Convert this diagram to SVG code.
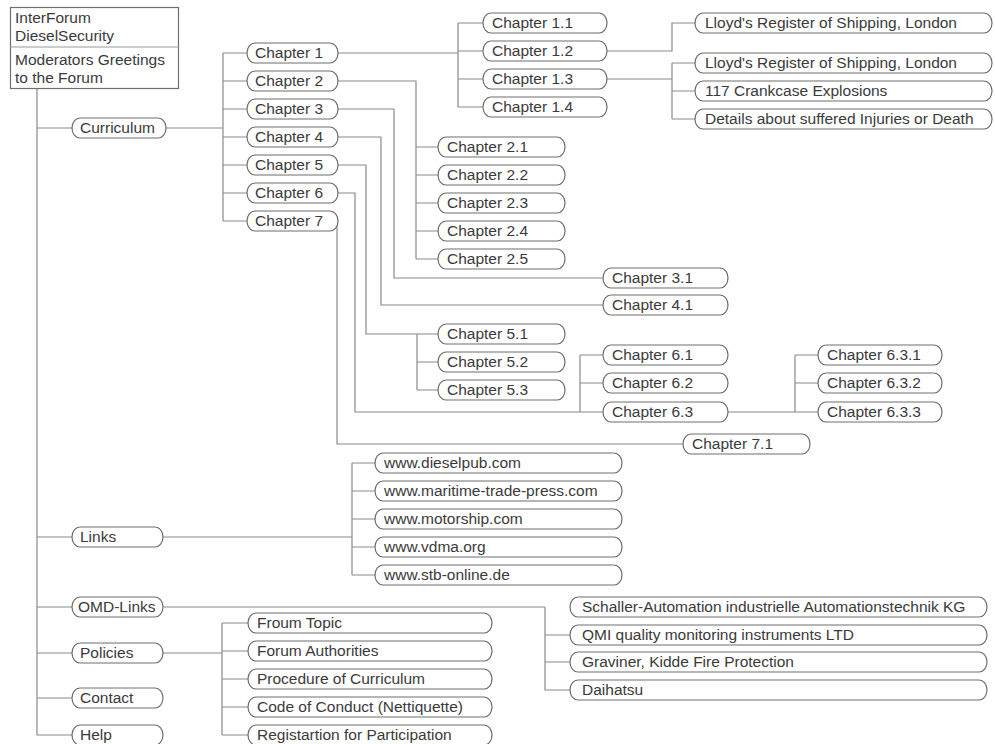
<svg xmlns="http://www.w3.org/2000/svg" width="995" height="744" viewBox="0 0 995 744">
<style>
.p{fill:#fff;stroke:#6e6e6e;stroke-width:1.2}
.t{font-family:"Liberation Sans",Arial,sans-serif;font-size:15.5px;fill:#3a3a3a}
.c{fill:none;stroke:#8a8a8a;stroke-width:1.2}
</style>
<rect width="995" height="744" fill="#fff"/>
<g id="connectors">
<path class="c" d="M37 88V735H72M37 128H72M37 537H72M37 607H72M37 653H72M37 698H72"/>
<path class="c" d="M165 128H223M223 53V221M223 53H247M223 81H247M223 109H247M223 137H247M223 165H247M223 193H247M223 221H247"/>
<path class="c" d="M338 53H458M458 23V107M458 23H483M458 51H483M458 79H483M458 107H483"/>
<path class="c" d="M607 51H672V23H695M607 79H672M672 63V119M672 63H695M672 91H695M672 119H695"/>
<path class="c" d="M338 81H416V259M416 147H438M416 175H438M416 203H438M416 231H438M416 259H438"/>
<path class="c" d="M338 109H394V278H603"/>
<path class="c" d="M338 137H381V305H603"/>
<path class="c" d="M338 165H366V334H417M417 334V390M417 334H438M417 362H438M417 390H438"/>
<path class="c" d="M338 193H355V412H580M580 355V412M580 355H603M580 383H603M580 412H603"/>
<path class="c" d="M728 412H795M795 355V412M795 355H818M795 383H818M795 412H818"/>
<path class="c" d="M337 221V444H683"/>
<path class="c" d="M163 537H352M352 463V575M352 463H375M352 491H375M352 519H375M352 547H375M352 575H375"/>
<path class="c" d="M163 607H545M545 607V690H570M545 635H570M545 662H570"/>
<path class="c" d="M163 653H222M222 623V735M222 623H248M222 651H248M222 679H248M222 707H248M222 735H248"/>
</g>
<g id="root">
<rect x="10.5" y="7.5" width="168" height="81" fill="#fff" stroke="#6e6e6e" stroke-width="1.2"/>
<line x1="10.5" y1="47" x2="178.5" y2="47" stroke="#9a9a9a" stroke-width="1.2"/>
<text class="t" x="15" y="23">InterForum</text>
<text class="t" x="15" y="41">DieselSecurity</text>
<text class="t" x="15" y="65">Moderators Greetings</text>
<text class="t" x="15" y="83">to the Forum</text>
</g>
<g id="curriculum"><rect class="p" x="72" y="118" width="94" height="20" rx="8" ry="10"/><text class="t" x="80" y="133">Curriculum</text></g>
<g id="links"><rect class="p" x="72" y="527" width="91" height="20" rx="8" ry="10"/><text class="t" x="80" y="542">Links</text></g>
<g id="omd-links"><rect class="p" x="72" y="597" width="91" height="20" rx="8" ry="10"/><text class="t" x="78" y="612">OMD-Links</text></g>
<g id="policies"><rect class="p" x="72" y="643" width="91" height="20" rx="8" ry="10"/><text class="t" x="80" y="658">Policies</text></g>
<g id="contact"><rect class="p" x="72" y="688" width="91" height="20" rx="8" ry="10"/><text class="t" x="80" y="703">Contact</text></g>
<g id="help"><rect class="p" x="72" y="725" width="91" height="20" rx="8" ry="10"/><text class="t" x="80" y="740">Help</text></g>
<g id="ch1"><rect class="p" x="247" y="43" width="91" height="20" rx="8" ry="10"/><text class="t" x="255" y="58">Chapter 1</text></g>
<g id="ch2"><rect class="p" x="247" y="71" width="91" height="20" rx="8" ry="10"/><text class="t" x="255" y="86">Chapter 2</text></g>
<g id="ch3"><rect class="p" x="247" y="99" width="91" height="20" rx="8" ry="10"/><text class="t" x="255" y="114">Chapter 3</text></g>
<g id="ch4"><rect class="p" x="247" y="127" width="91" height="20" rx="8" ry="10"/><text class="t" x="255" y="142">Chapter 4</text></g>
<g id="ch5"><rect class="p" x="247" y="155" width="91" height="20" rx="8" ry="10"/><text class="t" x="255" y="170">Chapter 5</text></g>
<g id="ch6"><rect class="p" x="247" y="183" width="91" height="20" rx="8" ry="10"/><text class="t" x="255" y="198">Chapter 6</text></g>
<g id="ch7"><rect class="p" x="247" y="211" width="91" height="20" rx="8" ry="10"/><text class="t" x="255" y="226">Chapter 7</text></g>
<g id="ch1-1"><rect class="p" x="483" y="13" width="124" height="20" rx="8" ry="10"/><text class="t" x="492" y="28">Chapter 1.1</text></g>
<g id="ch1-2"><rect class="p" x="483" y="41" width="124" height="20" rx="8" ry="10"/><text class="t" x="492" y="56">Chapter 1.2</text></g>
<g id="ch1-3"><rect class="p" x="483" y="69" width="124" height="20" rx="8" ry="10"/><text class="t" x="492" y="84">Chapter 1.3</text></g>
<g id="ch1-4"><rect class="p" x="483" y="97" width="124" height="20" rx="8" ry="10"/><text class="t" x="492" y="112">Chapter 1.4</text></g>
<g id="lloyds1"><rect class="p" x="695" y="13" width="297" height="20" rx="8" ry="10"/><text class="t" x="705" y="28">Lloyd's Register of Shipping, London</text></g>
<g id="lloyds2"><rect class="p" x="695" y="53" width="297" height="20" rx="8" ry="10"/><text class="t" x="705" y="68">Lloyd's Register of Shipping, London</text></g>
<g id="crankcase"><rect class="p" x="695" y="81" width="297" height="20" rx="8" ry="10"/><text class="t" x="705" y="96">117 Crankcase Explosions</text></g>
<g id="details"><rect class="p" x="695" y="109" width="297" height="20" rx="8" ry="10"/><text class="t" x="705" y="124">Details about suffered Injuries or Death</text></g>
<g id="ch2-1"><rect class="p" x="438" y="137" width="127" height="20" rx="8" ry="10"/><text class="t" x="447" y="152">Chapter 2.1</text></g>
<g id="ch2-2"><rect class="p" x="438" y="165" width="127" height="20" rx="8" ry="10"/><text class="t" x="447" y="180">Chapter 2.2</text></g>
<g id="ch2-3"><rect class="p" x="438" y="193" width="127" height="20" rx="8" ry="10"/><text class="t" x="447" y="208">Chapter 2.3</text></g>
<g id="ch2-4"><rect class="p" x="438" y="221" width="127" height="20" rx="8" ry="10"/><text class="t" x="447" y="236">Chapter 2.4</text></g>
<g id="ch2-5"><rect class="p" x="438" y="249" width="127" height="20" rx="8" ry="10"/><text class="t" x="447" y="264">Chapter 2.5</text></g>
<g id="ch3-1"><rect class="p" x="603" y="268" width="125" height="20" rx="8" ry="10"/><text class="t" x="612" y="283">Chapter 3.1</text></g>
<g id="ch4-1"><rect class="p" x="603" y="295" width="125" height="20" rx="8" ry="10"/><text class="t" x="612" y="310">Chapter 4.1</text></g>
<g id="ch5-1"><rect class="p" x="438" y="324" width="127" height="20" rx="8" ry="10"/><text class="t" x="447" y="339">Chapter 5.1</text></g>
<g id="ch5-2"><rect class="p" x="438" y="352" width="127" height="20" rx="8" ry="10"/><text class="t" x="447" y="367">Chapter 5.2</text></g>
<g id="ch5-3"><rect class="p" x="438" y="380" width="127" height="20" rx="8" ry="10"/><text class="t" x="447" y="395">Chapter 5.3</text></g>
<g id="ch6-1"><rect class="p" x="603" y="345" width="125" height="20" rx="8" ry="10"/><text class="t" x="612" y="360">Chapter 6.1</text></g>
<g id="ch6-2"><rect class="p" x="603" y="373" width="125" height="20" rx="8" ry="10"/><text class="t" x="612" y="388">Chapter 6.2</text></g>
<g id="ch6-3"><rect class="p" x="603" y="402" width="125" height="20" rx="8" ry="10"/><text class="t" x="612" y="417">Chapter 6.3</text></g>
<g id="ch6-3-1"><rect class="p" x="818" y="345" width="124" height="20" rx="8" ry="10"/><text class="t" x="827" y="360">Chapter 6.3.1</text></g>
<g id="ch6-3-2"><rect class="p" x="818" y="373" width="124" height="20" rx="8" ry="10"/><text class="t" x="827" y="388">Chapter 6.3.2</text></g>
<g id="ch6-3-3"><rect class="p" x="818" y="402" width="124" height="20" rx="8" ry="10"/><text class="t" x="827" y="417">Chapter 6.3.3</text></g>
<g id="ch7-1"><rect class="p" x="683" y="434" width="127" height="20" rx="8" ry="10"/><text class="t" x="692" y="449">Chapter 7.1</text></g>
<g id="link1"><rect class="p" x="375" y="453" width="247" height="20" rx="8" ry="10"/><text class="t" x="384" y="468">www.dieselpub.com</text></g>
<g id="link2"><rect class="p" x="375" y="481" width="247" height="20" rx="8" ry="10"/><text class="t" x="384" y="496">www.maritime-trade-press.com</text></g>
<g id="link3"><rect class="p" x="375" y="509" width="247" height="20" rx="8" ry="10"/><text class="t" x="384" y="524">www.motorship.com</text></g>
<g id="link4"><rect class="p" x="375" y="537" width="247" height="20" rx="8" ry="10"/><text class="t" x="384" y="552">www.vdma.org</text></g>
<g id="link5"><rect class="p" x="375" y="565" width="247" height="20" rx="8" ry="10"/><text class="t" x="384" y="580">www.stb-online.de</text></g>
<g id="omd1"><rect class="p" x="570" y="597" width="417" height="20" rx="8" ry="10"/><text class="t" x="582" y="612">Schaller-Automation industrielle Automationstechnik KG</text></g>
<g id="omd2"><rect class="p" x="570" y="625" width="417" height="20" rx="8" ry="10"/><text class="t" x="582" y="640">QMI quality monitoring instruments LTD</text></g>
<g id="omd3"><rect class="p" x="570" y="652" width="417" height="20" rx="8" ry="10"/><text class="t" x="582" y="667">Graviner, Kidde Fire Protection</text></g>
<g id="omd4"><rect class="p" x="570" y="680" width="417" height="20" rx="8" ry="10"/><text class="t" x="582" y="695">Daihatsu</text></g>
<g id="pol1"><rect class="p" x="248" y="613" width="244" height="20" rx="8" ry="10"/><text class="t" x="257" y="628">Froum Topic</text></g>
<g id="pol2"><rect class="p" x="248" y="641" width="244" height="20" rx="8" ry="10"/><text class="t" x="257" y="656">Forum Authorities</text></g>
<g id="pol3"><rect class="p" x="248" y="669" width="244" height="20" rx="8" ry="10"/><text class="t" x="257" y="684">Procedure of Curriculum</text></g>
<g id="pol4"><rect class="p" x="248" y="697" width="244" height="20" rx="8" ry="10"/><text class="t" x="257" y="712">Code of Conduct (Nettiquette)</text></g>
<g id="pol5"><rect class="p" x="248" y="725" width="244" height="20" rx="8" ry="10"/><text class="t" x="257" y="740">Registartion for Participation</text></g>
</svg>
